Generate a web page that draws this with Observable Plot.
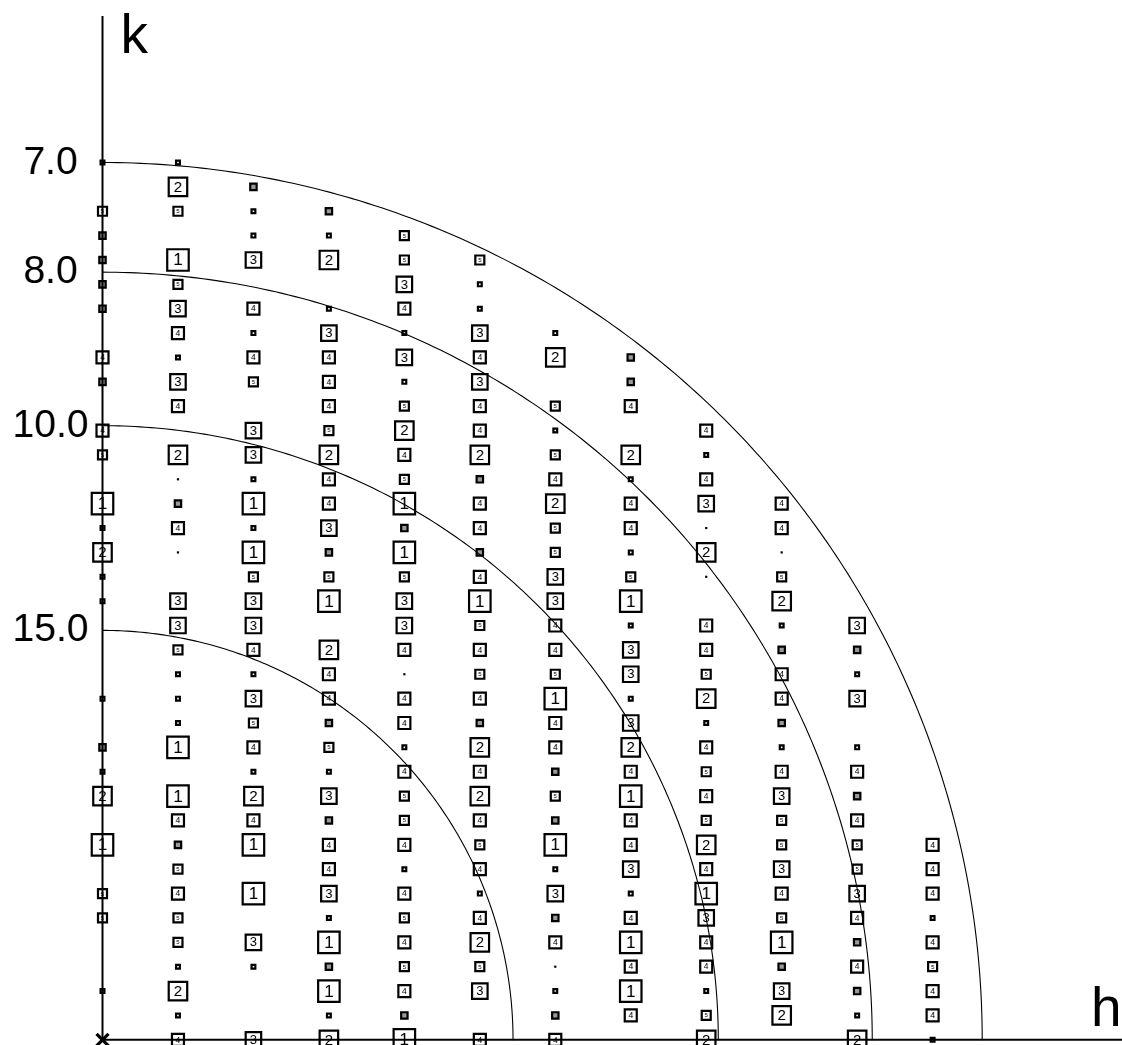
<!DOCTYPE html>
<html><head><meta charset="utf-8">
<script src="https://cdn.jsdelivr.net/npm/d3@7"></script>
<script src="https://cdn.jsdelivr.net/npm/@observablehq/plot@0.6"></script>
<style>html,body{margin:0;padding:0;background:#fff}svg{display:block}</style>
</head><body><div id="chart"></div>
<script>
// Cell constants (Å) of the reciprocal-lattice section (h along x, k along y)
const cellA = 81.6;
const cellC = 252.0;
// Resolution circles (Å)
const resolutions = [7.0, 8.0, 10.0, 15.0];
const resolutionLabels = ["7.0", "8.0", "10.0", "15.0"];
// Intensity class of each reflection, index = k (0..36); 0 = absent, 1..7 = classes, 8 = faint dot
const col0  = [0,0,7,0,0,5,5,0,1,0,2,7,6,0,7,0,0,0,7,7,2,7,1,0,5,4,0,6,4,0,6,6,6,6,5,0,7];
const col1  = [4,7,2,7,5,5,4,5,6,4,1,0,1,7,7,7,5,3,3,0,8,4,6,8,2,0,4,3,7,4,3,5,1,0,5,2,7];
const col2  = [3,0,0,7,3,0,1,0,1,4,2,7,4,5,3,7,4,3,3,5,1,7,1,7,3,3,0,5,4,7,4,0,3,7,7,6,0];
const col3  = [2,7,1,6,1,7,3,4,4,6,3,7,5,6,4,4,2,0,1,5,6,3,4,4,2,5,4,4,4,3,7,0,2,7,6,0,0];
const col4  = [1,6,4,5,4,5,4,7,4,5,5,4,7,4,4,8,4,3,3,5,1,6,1,5,4,2,5,7,3,7,4,3,5,5,0,0,0];
const col5  = [4,0,3,5,2,4,7,4,5,4,2,4,2,6,4,5,4,5,1,4,6,4,4,6,2,4,4,3,4,3,7,7,5,0,0,0,0];
const col6  = [4,6,7,8,4,6,3,7,1,6,5,6,4,4,1,5,4,4,3,3,5,5,2,4,5,7,5,0,2,7,0,0,0,0,0,0,0];
const col7  = [0,4,1,4,1,4,7,3,4,4,1,4,2,3,7,3,3,7,1,5,7,4,4,7,2,0,4,6,6,0,0,0,0,0,0,0,0];
const col8  = [2,5,7,4,4,3,1,4,2,5,4,5,4,7,2,5,4,4,0,8,2,8,3,4,7,4,0,0,0,0,0,0,0,0,0,0,0];
const col9  = [0,2,3,6,1,5,4,3,5,5,3,4,7,6,4,4,6,7,2,5,8,4,4,0,0,0,0,0,0,0,0,0,0,0,0,0,0];
const col10 = [2,7,6,4,6,4,3,5,5,4,6,4,7,0,3,7,6,3,0,0,0,0,0,0,0,0,0,0,0,0,0,0,0,0,0,0,0];
const col11 = [7,4,4,5,4,7,4,4,4,0,0,0,0,0,0,0,0,0,0,0,0,0,0,0,0,0,0,0,0,0,0,0,0,0,0,0,0];
const columns = [col0, col1, col2, col3, col4, col5, col6, col7, col8, col9, col10, col11];

const spots = [];
columns.forEach((col, h) => col.forEach((c, k) => {
  if (c > 0) spots.push({h, k, cls: c, x: h / cellA, y: k / cellC});
}));

// style per class: square side (path), label font size
const side = {1: 21.5, 2: 18.5, 3: 15.5, 4: 12, 5: 9, 6: 6.4, 7: 3.8};
const font = {1: 17, 2: 15, 3: 13, 4: 8.5, 5: 6};
const FF = "Liberation Sans, Arial, Helvetica, sans-serif";

const marks = [];
for (let c = 1; c <= 7; c++) {
  const sub = spots.filter(d => d.cls === c);
  marks.push(Plot.dot(sub, {x: "x", y: "y", symbol: "square", r: side[c] / Math.sqrt(Math.PI),
    stroke: "black", strokeWidth: 2.2, fill: c === 6 ? "#9a9a9a" : "white"}));
  if (font[c]) marks.push(Plot.text(sub, {x: "x", y: "y", text: d => String(d.cls), fontSize: font[c],
    fontFamily: FF, textAnchor: "middle", lineAnchor: "middle", fill: "black"}));
}
marks.push(Plot.dot(spots.filter(d => d.cls === 8), {x: "x", y: "y", symbol: "square",
  r: 2.2 / Math.sqrt(Math.PI), fill: "black"}));

// resolution circles
const arcs = [];
resolutions.forEach(d => {
  for (let i = 0; i <= 180; i++) {
    const t = (i / 180) * Math.PI / 2;
    arcs.push({d, x: Math.cos(t) / d, y: Math.sin(t) / d});
  }
});
marks.push(Plot.line(arcs, {x: "x", y: "y", z: "d", stroke: "black", strokeWidth: 1.1}));

// axes
marks.push(Plot.ruleX([0], {stroke: "black", strokeWidth: 2}));
marks.push(Plot.ruleY([0], {stroke: "black", strokeWidth: 2}));
marks.push(Plot.dot([0], {x: () => 0, y: () => 0, symbol: "times", r: 5.5, stroke: "black", strokeWidth: 3.2}));

// resolution labels on k axis
marks.push(Plot.text(resolutions, {x: () => 0, y: d => 1 / d, text: (d, i) => resolutionLabels[i],
  dx: -52, dy: 11, textAnchor: "middle", lineAnchor: "bottom", fontSize: 39, fontFamily: FF, fill: "black"}));
// axis names
marks.push(Plot.text(["k"], {frameAnchor: "top-left", text: d => d, dx: 18, dy: -3, textAnchor: "start",
  lineAnchor: "top", fontSize: 55, fontFamily: FF, fill: "black"}));
marks.push(Plot.text(["h"], {frameAnchor: "bottom-right", text: d => d, dx: -1, dy: -14, textAnchor: "end",
  lineAnchor: "bottom", fontSize: 55, fontFamily: FF, fill: "black"}));

const chart = Plot.plot({
  width: 1122, height: 1045,
  marginLeft: 102, marginRight: 0, marginTop: 16, marginBottom: 6,
  x: {domain: [0, 1 / 7], range: [102, 981.7], axis: null},
  y: {domain: [0, 1 / 7], range: [1039.3, 162], axis: null},
  style: {background: "white", overflow: "visible", filter: "grayscale(1)"},
  marks
});
document.getElementById("chart").appendChild(chart);
</script>
</body></html>
